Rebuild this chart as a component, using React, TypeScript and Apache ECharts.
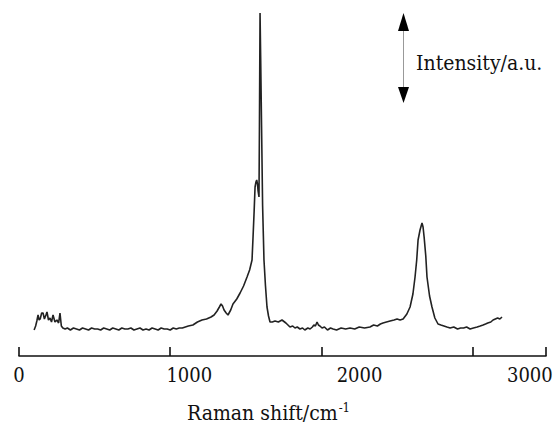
import React, { useEffect, useRef } from "react";
import * as echarts from "echarts";

// Raman shift (cm^-1) and intensity (a.u.)
const shift: number[] = [
  100, 110, 118, 126, 133, 140, 150, 159, 168, 178, 185, 195, 205, 215, 225, 238, 251, 262, 271, 280, 290,
  305, 320, 340, 360, 380, 400, 420, 440, 460, 480, 500, 520, 540, 560, 580, 600, 620, 640, 660, 680, 700,
  720, 740, 760, 780, 800, 820, 840, 860, 880, 900, 920, 940, 960, 980, 1000, 1020, 1040, 1060, 1080, 1100,
  1120, 1150, 1180, 1210, 1240, 1270, 1290, 1310, 1325, 1336, 1346, 1356, 1370, 1382, 1400, 1415, 1440,
  1462, 1485, 1508, 1525, 1541, 1548, 1555, 1561, 1567, 1572, 1577, 1581, 1587, 1590, 1594, 1598, 1604,
  1611, 1616, 1620, 1630, 1640, 1650, 1660, 1675, 1693, 1715, 1739, 1765, 1792, 1810, 1825, 1840, 1858,
  1875, 1890, 1910, 1925, 1940, 1950, 1960, 1971, 1980, 1990, 2004, 2020, 2040, 2060, 2077, 2100, 2130,
  2160, 2189, 2220, 2250, 2285, 2321, 2345, 2370, 2390, 2407, 2430, 2454, 2480, 2500, 2520, 2540, 2565,
  2586, 2605, 2619, 2630, 2639, 2652, 2665, 2672, 2679, 2690, 2698, 2715, 2731, 2750, 2771, 2790, 2810,
  2830, 2851, 2875, 2900, 2920, 2940, 2960, 2983, 3005, 3030, 3050, 3069, 3085, 3100, 3120, 3135, 3150,
  3165, 3180, 3194,
];
const intensity: number[] = [
  26, 30, 35, 41, 36, 37, 43, 43, 37, 41, 44, 36, 38, 34, 41, 34, 36, 33, 43, 30, 28,
  27, 28, 26, 28, 27, 26, 28, 27, 26, 28, 27, 27, 26, 28, 27, 26, 28, 27, 26, 28, 27,
  27, 28, 26, 27, 28, 26, 27, 26, 28, 27, 26, 28, 27, 27, 26, 28, 27, 28, 28, 29,
  30, 31, 34, 36, 37, 39, 41, 45, 49, 52, 50, 46, 43, 41, 46, 52, 57,
  63, 70, 79, 86, 96, 120, 145, 169, 174, 176, 172, 165, 159, 230, 343, 300, 230,
  150, 120, 96, 70, 49, 40, 34, 34, 35, 34, 36, 33, 29, 30, 28, 29, 27,
  28, 26, 28, 27, 29, 31, 30, 34, 31, 30, 28, 29, 26, 28, 27, 26, 28,
  27, 28, 27, 29, 28, 29, 31, 30, 32, 33, 34, 35, 36, 37, 36, 37, 42,
  49, 62, 79, 96, 116, 126, 133, 129, 119, 100, 79, 60, 49, 38, 32, 31, 30,
  29, 28, 29, 27, 28, 28, 29, 27, 28, 29, 30, 31, 32, 33, 34, 36, 37,
  38, 37, 39,
];
const tickLabels: string[] = ["0", "1000", "2000", "3000"];
const xAxisName = "Raman shift/cm";
const xAxisNameSup = "-1";
const intensityLabel = "Intensity/a.u.";

const FONT = "DejaVu Serif Condensed";

export default function App() {
  const ref = useRef<HTMLDivElement>(null);
  useEffect(() => {
    if (!ref.current) return;
    const chart = echarts.init(ref.current, null, { renderer: "svg" });
    const data = shift.map((s, i) => [s, intensity[i]]);
    chart.setOption({
      animation: false,
      backgroundColor: "#ffffff",
      grid: { left: 19, right: 10, top: 0, bottom: 71, containLabel: false, outerBoundsMode: "none" },
      xAxis: [
        {
          type: "value",
          min: 0,
          max: 3485,
          interval: 1000,
          position: "bottom",
          axisLine: { show: true, lineStyle: { color: "#111", width: 1.6 } },
          axisTick: { show: true, inside: true, length: 9, lineStyle: { color: "#111", width: 1.6 } },
          axisLabel: { show: false },
          splitLine: { show: false },
        },
        {
          type: "value",
          min: 0,
          max: 3095,
          interval: 1000,
          position: "bottom",
          axisLine: { show: false },
          axisTick: { show: false },
          splitLine: { show: false },
          axisLabel: {
            show: true,
            margin: 9,
            color: "#111",
            fontFamily: FONT,
            fontSize: 20,
            formatter: (v: number) => {
              const idx = Math.round(v / 1000);
              return Math.abs(v - idx * 1000) < 1e-6 && idx < tickLabels.length ? tickLabels[idx] : "";
            },
          },
          name: `{m|${xAxisName}}{s|${xAxisNameSup}}`,
          nameLocation: "middle",
          nameGap: 45,
          nameTextStyle: {
            fontFamily: FONT,
            padding: [0, 28, 0, 0],
            rich: {
              m: { fontFamily: FONT, fontSize: 21, color: "#111", lineHeight: 24 },
              s: { fontFamily: FONT, fontSize: 13, color: "#111", lineHeight: 24, verticalAlign: "top", padding: [0, 0, 0, 1] },
            },
          },
        },
      ],
      yAxis: { type: "value", min: 0, max: 356, show: false },
      series: [
        {
          type: "line",
          xAxisIndex: 0,
          data,
          showSymbol: false,
          symbol: "none",
          lineStyle: { color: "#222", width: 1.6 },
        },
      ],
      graphic: [
        { type: "line", shape: { x1: 403.5, y1: 30, x2: 403.5, y2: 88 }, style: { stroke: "#999", lineWidth: 1 } },
        { type: "polygon", shape: { points: [[403.5, 13], [398, 31], [409, 31]] }, style: { fill: "#000" } },
        { type: "polygon", shape: { points: [[403.5, 103], [398, 87], [409, 87]] }, style: { fill: "#000" } },
        {
          type: "text",
          x: 416,
          y: 63,
          style: { text: intensityLabel, fontFamily: FONT, fontSize: 21, fill: "#111", verticalAlign: "middle", align: "left" },
        },
      ],
    });
    return () => chart.dispose();
  }, []);
  return <div ref={ref} style={{ position: "fixed", left: 0, top: 0, width: 556, height: 427 }} />;
}
